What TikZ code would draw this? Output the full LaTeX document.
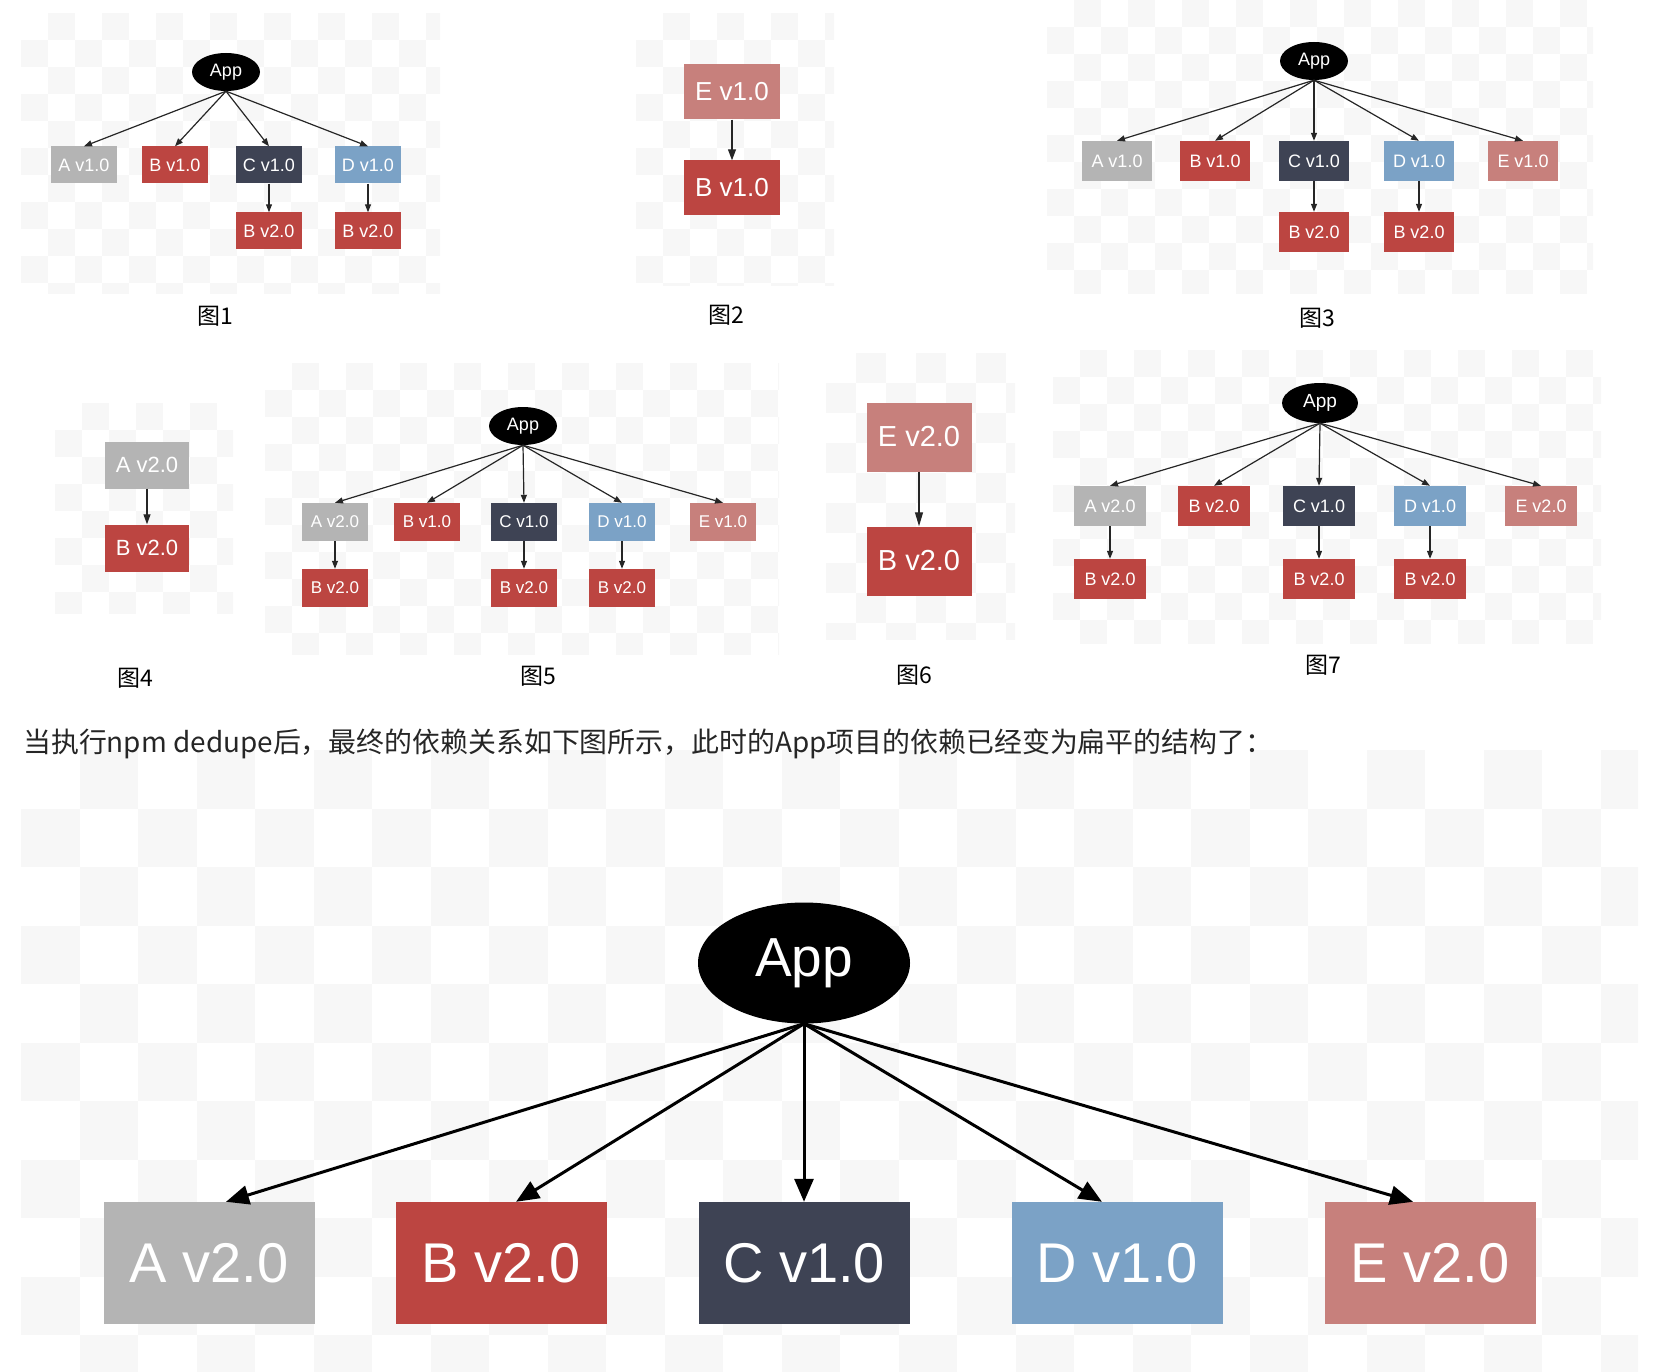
\documentclass[tikz,border=0pt]{standalone}
\usepackage{fontspec}
\setsansfont{Liberation Sans}
\newfontfamily\cjk{Noto Sans CJK SC}
\usetikzlibrary{shapes.geometric,arrows.meta}

\definecolor{pkgA}{HTML}{B4B4B4}
\definecolor{pkgB}{HTML}{BC4541}
\definecolor{pkgC}{HTML}{3E4354}
\definecolor{pkgD}{HTML}{7BA2C6}
\definecolor{pkgE}{HTML}{C7807C}

\newcommand{\pxfont}[1]{\fontsize{#1}{#1}\selectfont}

\tikzset{
  checker/.style={fill=black!3},
  pkg/.style={rectangle,inner sep=0pt,text=white,font=\sffamily\pxfont{18},minimum width=66,minimum height=37},
  app/.style={ellipse,fill=black,inner sep=0pt,text=white,font=\sffamily\pxfont{18},minimum width=68,minimum height=38},
  dep/.style={-{Triangle[length=8pt,width=6pt]},line width=1.2pt,black!85},
  figcap/.style={font=\cjk\pxfont{23}},
}

\begin{document}
\begin{tikzpicture}[x=1pt,y=-1pt]
\useasboundingbox (0,0) rectangle (1662,1372);
% faint checker backgrounds
\foreach \xa/\ya/\xb/\yb/\s in {21/13/440/294/27,636/13/834/286/27,1047/0/1593/294/27,55/403/233/613/27,265/363/779/654/27,826/353/1015/639/30,1053/350/1601/643/27,21/750/1638/1372/58.5}{
  \begin{scope}
    \clip (\xa,\ya) rectangle (\xb,\yb);
    \pgfmathtruncatemacro\nx{(\xb-\xa)/\s}
    \pgfmathtruncatemacro\ny{(\yb-\ya)/\s}
    \foreach \i in {0,...,\nx}
      \foreach \j in {0,...,\ny}{
        \pgfmathtruncatemacro\odd{mod(\i+\j,2)}
        \ifnum\odd=1 \fill[checker] (\xa+\i*\s,\ya+\j*\s) rectangle ++(\s,\s); \fi
      }
  \end{scope}
}

% fig 1
\node[app] (app1) at (226,72) {App};
\foreach \n/\x/\t/\c in {a1/84/A v1.0/pkgA,b1/175/B v1.0/pkgB,c1/269/C v1.0/pkgC,d1/368/D v1.0/pkgD}{
  \node[pkg,fill=\c] (\n) at (\x,165) {\t};
  \draw[dep] (app1.south) -- (\n.north);
}
\node[pkg,fill=pkgB] (cb1) at (269,231) {B v2.0};
\node[pkg,fill=pkgB] (db1) at (368,231) {B v2.0};
\draw[dep] (c1.south) -- (cb1.north);
\draw[dep] (d1.south) -- (db1.north);
\node[figcap] (cap1) at (215,316) {图1};

% fig 2
\begin{scope}[pkg/.append style={minimum width=96,minimum height=55,font=\sffamily\pxfont{26}}]
  \node[pkg,fill=pkgE] (e2) at (732,92) {E v1.0};
  \node[pkg,fill=pkgB] (b2) at (732,188) {B v1.0};
  \draw[dep,-{Triangle[length=11pt,width=8pt]}] (e2.south) -- (b2.north);
\end{scope}
\node[figcap] (cap2) at (726,315) {图2};

% fig 3
\begin{scope}[pkg/.append style={minimum width=70,minimum height=40}]
  \node[app] (app3) at (1314,61) {App};
  \foreach \n/\x/\t/\c in {a3/1117/A v1.0/pkgA,b3/1215/B v1.0/pkgB,c3/1314/C v1.0/pkgC,d3/1419/D v1.0/pkgD,e3/1523/E v1.0/pkgE}{
    \node[pkg,fill=\c] (\n) at (\x,161) {\t};
    \draw[dep] (app3.south) -- (\n.north);
  }
  \node[pkg,fill=pkgB] (cb3) at (1314,232) {B v2.0};
  \node[pkg,fill=pkgB] (db3) at (1419,232) {B v2.0};
  \draw[dep] (c3.south) -- (cb3.north);
  \draw[dep] (d3.south) -- (db3.north);
\end{scope}
\node[figcap] (cap3) at (1317,318) {图3};

% fig 4
\begin{scope}[pkg/.append style={minimum width=84,minimum height=47,font=\sffamily\pxfont{22}}]
  \node[pkg,fill=pkgA] (a4) at (147,465) {A v2.0};
  \node[pkg,fill=pkgB] (b4) at (147,548) {B v2.0};
  \draw[dep,-{Triangle[length=10pt,width=7pt]}] (a4.south) -- (b4.north);
\end{scope}
\node[figcap] (cap4) at (135,678) {图4};

% fig 5
\begin{scope}[pkg/.append style={minimum width=66,minimum height=38,font=\sffamily\pxfont{17}}]
  \node[app] (app5) at (523,426) {App};
  \foreach \n/\x/\t/\c in {a5/335/A v2.0/pkgA,b5/427/B v1.0/pkgB,c5/524/C v1.0/pkgC,d5/622/D v1.0/pkgD,e5/723/E v1.0/pkgE}{
    \node[pkg,fill=\c] (\n) at (\x,522) {\t};
    \draw[dep] (app5.south) -- (\n.north);
  }
  \node[pkg,fill=pkgB] (ab5) at (335,588) {B v2.0};
  \node[pkg,fill=pkgB] (cb5) at (524,588) {B v2.0};
  \node[pkg,fill=pkgB] (db5) at (622,588) {B v2.0};
  \draw[dep] (a5.south) -- (ab5.north);
  \draw[dep] (c5.south) -- (cb5.north);
  \draw[dep] (d5.south) -- (db5.north);
\end{scope}
\node[figcap] (cap5) at (538,676) {图5};

% fig 6
\begin{scope}[pkg/.append style={minimum width=105,minimum height=69,font=\sffamily\pxfont{29}}]
  \node[pkg,fill=pkgE] (e6) at (919,437) {E v2.0};
  \node[pkg,fill=pkgB] (b6) at (919,561) {B v2.0};
  \draw[dep,-{Triangle[length=14pt,width=8pt]}] (e6.south) -- (b6.north);
\end{scope}
\node[figcap] (cap6) at (914,675) {图6};

% fig 7
\begin{scope}[pkg/.append style={minimum width=72,minimum height=40},app/.append style={minimum width=76,minimum height=40,font=\sffamily\pxfont{19}}]
  \node[app] (app7) at (1320,403) {App};
  \foreach \n/\x/\t/\c in {a7/1110/A v2.0/pkgA,b7/1214/B v2.0/pkgB,c7/1319/C v1.0/pkgC,d7/1430/D v1.0/pkgD,e7/1541/E v2.0/pkgE}{
    \node[pkg,fill=\c] (\n) at (\x,506) {\t};
    \draw[dep] (app7.south) -- (\n.north);
  }
  \node[pkg,fill=pkgB] (ab7) at (1110,579) {B v2.0};
  \node[pkg,fill=pkgB] (cb7) at (1319,579) {B v2.0};
  \node[pkg,fill=pkgB] (db7) at (1430,579) {B v2.0};
  \draw[dep] (a7.south) -- (ab7.north);
  \draw[dep] (c7.south) -- (cb7.north);
  \draw[dep] (d7.south) -- (db7.north);
\end{scope}
\node[figcap] (cap7) at (1323,665) {图7};

\node[font=\cjk\pxfont{27.9},text=black!85,anchor=west,inner sep=0pt] (note) at (23,744) {当执行npm dedupe后，最终的依赖关系如下图所示，此时的App项目的依赖已经变为扁平的结构了：};

% after dedupe
\begin{scope}[pkg/.append style={minimum width=211,minimum height=122,font=\sffamily\pxfont{56}},app/.append style={minimum width=212,minimum height=121,font=\sffamily\pxfont{55}},dep/.append style={-{Triangle[length=23pt,width=19pt]},line width=3pt,black}]
  \node[app] (app8) at (804,963) {App};
  \foreach \n/\x/\t/\c/\o in {a8/209/A v2.0/pkgA/17,b8/501/B v2.0/pkgB/15,c8/804/C v1.0/pkgC/0,d8/1117/D v1.0/pkgD/-15,e8/1430/E v2.0/pkgE/-17}{
    \node[pkg,fill=\c] (\n) at (\x,1263) {\t};
    \draw[dep] (app8.south) -- ([xshift=\o pt]\n.north);
  }
\end{scope}
\end{tikzpicture}
\end{document}
